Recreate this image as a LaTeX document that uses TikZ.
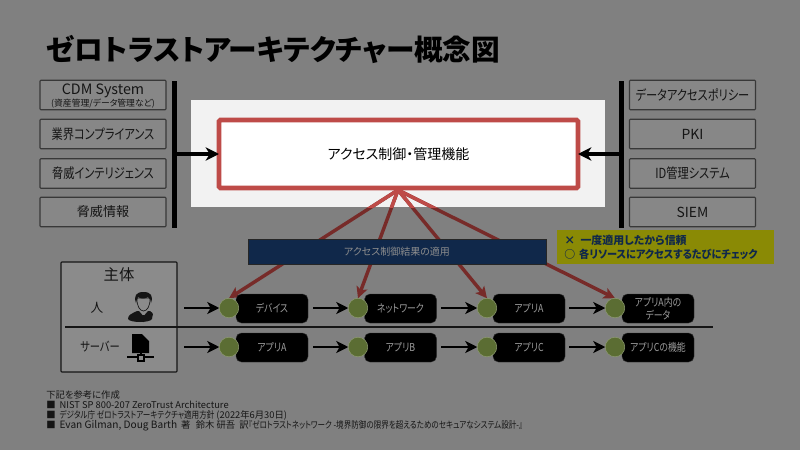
\documentclass[tikz,border=0pt]{standalone}
\usepackage{fontspec}
\setmainfont{Noto Sans CJK JP}[RawFeature=+palt]
\newfontfamily\cdk{Noto Sans CJK JP}[RawFeature=+palt,FakeStretch=0.81]
\newfontfamily\cdj{Noto Sans CJK JP}[RawFeature=+palt,FakeStretch=0.93]
\usetikzlibrary{arrows.meta}
\definecolor{bgc}{HTML}{808080}
\definecolor{boxc}{HTML}{878787}
\definecolor{subjc}{HTML}{8B8B8B}
\definecolor{redc}{HTML}{BE4B48}
\definecolor{dred}{HTML}{772B29}
\definecolor{navy}{HTML}{10284A}
\definecolor{olive}{HTML}{5B6D33}
\definecolor{yel}{HTML}{8A8A05}
\definecolor{ink}{HTML}{151515}
\definecolor{dimtxt}{HTML}{9C9C9C}
\tikzset{
  x=0.75pt,y=-0.75pt,
  wh/.style 2 args={minimum width=#1*0.75pt,minimum height=#2*0.75pt,inner sep=0pt,outer sep=0pt},
  srcbox/.style={draw=ink!85!white,line width=0.8pt,fill=boxc,rounded corners=0.6pt,text=ink,font=\fontsize{10.4}{12}\selectfont,align=center},
  resbox/.style={fill=black,rounded corners=4pt,draw=black!60!bgc,line width=0.3pt,text=dimtxt,font=\cdk\fontsize{8.2}{9.5}\selectfont,align=center},
  pep/.style={circle,fill=olive,draw=olive!70!white,line width=0.4pt,minimum size=19.5*0.75pt,inner sep=0pt,outer sep=0pt},
  bigarrow/.style={line width=2.4pt,-{Stealth[length=10pt,width=10pt,inset=3pt]}},
  rowarrow/.style={line width=2pt,-{Stealth[length=9pt,width=9pt,inset=2.5pt]}},
  redarrow/.style={draw=dred,line width=2.6pt,-{Stealth[length=8.5pt,width=8.5pt,inset=2pt]}},
  note/.style={anchor=west,inner sep=0pt,text=ink,font=\fontsize{7}{8}\selectfont},
  lab/.style={inner sep=0pt,text=ink}
}
\begin{document}
\begin{tikzpicture}
\useasboundingbox (0,0) rectangle (800,450);
\fill[bgc] (0,0) rectangle (800,450);
\node[anchor=west,inner sep=0pt,text=black,font=\fontsize{21.5}{24}\bfseries\selectfont] (title) at (46,50) {ゼロトラストアーキテクチャー概念図};
% panel
\node[fill=black!5,wh={414}{107}] (panel) at (398,153.5) {};
% left sources
\node[srcbox,wh={126}{29.5}] (l1) at (103,95) {};
\node[lab,font=\fontsize{10.7}{12}\selectfont] (l1a) at (103,90.5) {CDM System};
\node[lab,font=\fontsize{6.6}{8}\selectfont] (l1b) at (103,103.5) {(資産管理/データ管理など)};
\node[srcbox,wh={126}{29.5}] (l2) at (103,134) {\cdk 業界コンプライアンス};
\node[srcbox,wh={126}{29.5}] (l3) at (103,173.5) {\cdk 脅威インテリジェンス};
\node[srcbox,wh={126}{29.5}] (l4) at (103,212) {{\fontsize{9.8}{12}\selectfont 脅威情報}};
% right sources
\node[srcbox,wh={126}{29.5}] (r1) at (692.5,95) {\cdk データアクセスポリシー};
\node[srcbox,wh={126}{29.5}] (r2) at (692.5,134) {PKI};
\node[srcbox,wh={126}{29.5}] (r3) at (692.5,173.5) {\cdk ID管理システム};
\node[srcbox,wh={126}{29.5}] (r4) at (692.5,212) {SIEM};
% bars
\node[fill=black,wh={5}{147}] (lbar) at (174.5,154) {};
\node[fill=black,wh={5}{147}] (rbar) at (621.5,154) {};
% red connectors
\node[pep,draw=none,fill=none] (pa1) at (229,308) {};
\node[pep,draw=none,fill=none] (pa2) at (358,308) {};
\node[pep,draw=none,fill=none] (pa3) at (487,308) {};
\node[pep,draw=none,fill=none] (pa4) at (615,308) {};
\coordinate (mid) at (398,190);
\foreach \n in {1,2,3,4}{ \draw[redarrow] (mid) -- (pa\n.north); }
\begin{scope}
\clip (191,100) rectangle (605,207);
\foreach \n in {1,2,3,4}{ \draw[draw=redc,line width=2.6pt] (mid) -- (pa\n.north); }
\end{scope}
% main
\node[fill=white,draw=redc,line width=3.4pt,rounded corners=1pt,wh={359}{68},text=black,font=\fontsize{10.5}{12}\selectfont] (main) at (398.5,154) {アクセス制御・管理機能};
\draw[bigarrow] (lbar.east |- main.west) -- (main.west);
\draw[bigarrow] (rbar.west |- main.east) -- (main.east);
% row 1 and 2 boxes
\node[resbox,wh={72}{29}] (a1) at (272,308.5) {デバイス};
\node[resbox,wh={72}{29}] (a2) at (400.5,308.5) {ネットワーク};
\node[resbox,wh={72}{29}] (a3) at (529,308.5) {アプリA};
\node[resbox,wh={72}{29}] (a4) at (658,308.5) {アプリA内の\\データ};
\node[resbox,wh={72}{29}] (b1) at (272,347.5) {アプリA};
\node[resbox,wh={72}{29}] (b2) at (400.5,347.5) {アプリB};
\node[resbox,wh={72}{29}] (b3) at (529,347.5) {アプリC};
\node[resbox,wh={72}{29}] (b4) at (658,347.5) {アプリCの機能};
\foreach \n/\x in {1/229,2/358,3/487,4/615}{
  \node[pep] (qa\n) at (\x,308) {};
  \node[pep] (pb\n) at (\x,347) {};
}
% navy
\node[fill=navy,draw=black!70!bgc,line width=0.3pt,wh={298}{25},text=dimtxt!90!black,font=\fontsize{7.5}{9}\selectfont] (apply) at (397,251.5) {アクセス制御結果の適用};
% yellow
\node[fill=yel,wh={217}{34}] (tip) at (665.5,247) {};
\node[anchor=west,inner sep=0pt,text=navy,font=\fontsize{8.2}{10}\bfseries\selectfont] (tip1) at (564,240.5) {×\hspace{4pt}一度適用したから信頼};
\node[anchor=west,inner sep=0pt,text=navy,font=\fontsize{8.2}{10}\bfseries\selectfont] (tip2) at (564,254) {○\hspace{3pt}{\cdj 各リソースにアクセスするたびにチェック}};
% subject
\node[fill=subjc,draw=ink,line width=0.8pt,rounded corners=0.6pt,wh={116}{110}] (subj) at (119,317) {};
\node[lab,font=\fontsize{11.5}{13}\selectfont] (subjt) at (119,275) {主体};
\node[lab,font=\fontsize{9.5}{11}\selectfont] (human) at (97,308) {人};
\node[lab,font=\cdk\fontsize{9.5}{11}\selectfont] (server) at (100,347) {サーバー};
\coordinate (dl) at (65,327);
\coordinate (dr) at (713,327);
\draw[ink,line width=0.9pt] (dl) -- (dr);
% person icon
\fill[ink] (128,319) .. controls (128,315) and (131,314) .. (137,311) -- (150,311) -- (143.5,311) -- (150,311) .. controls (155,314) and (152,315) .. (152,319) .. controls (150,323) and (130,323) .. (128,319) -- cycle;
\fill[subjc] (137.5,309) -- (143.5,316) -- (149.5,309) -- cycle;
\draw[ink,line width=0.5pt,fill=subjc] (137,298) .. controls (136.5,306) and (140,311) .. (143.5,311) .. controls (147,311) and (150.5,306) .. (150,298) -- cycle;
\fill[ink] (136,303) .. controls (133.5,296) and (136,292) .. (143.5,292) .. controls (151,292) and (153.5,296) .. (151,303) .. controls (151,300) and (150,298) .. (148,297) .. controls (145,299) and (141,299) .. (138,297) .. controls (137,299) and (136.5,301) .. (136,303) -- cycle;
\fill[ink] (142.5,315) -- (144.5,315) -- (145,320) -- (143.5,322) -- (142,320) -- cycle;
% server icon
\fill[black] (132,334) -- (142,334) -- (149,341) -- (149,353) -- (132,353) -- cycle;
\fill[black] (139.5,353) rectangle (141.5,356);
\fill[black] (127,355.5) rectangle (154,358);
\fill[black] (136.5,354) rectangle (145,361.5);
\fill[subjc] (139,356) rectangle (142.5,359.5);
% row arrows
\foreach \n/\x in {1/184,2/313,3/441,4/569}{
  \coordinate (sa\n) at (\x,308);
  \coordinate (sb\n) at (\x,347);
  \draw[rowarrow] (sa\n) -- (qa\n.west);
  \draw[rowarrow] (sb\n) -- (pb\n.west);
}
% notes
\node[note] (n0) at (46,395) {下記を参考に作成};
\node[note] (n1) at (46,405) {■\hspace{3pt}NIST SP 800-207 ZeroTrust Architecture};
\node[note] (n2) at (46,415.5) {■\hspace{3pt}{\cdk デジタル庁 ゼロトラストアーキテクチャ適用方針} (2022年6月30日)};
\node[note] (n3) at (46,426) {■\hspace{3pt}{\fontsize{7.6}{8}\selectfont Evan Gilman, Doug Barth}\hspace{3pt}著\hspace{4pt}鈴木 研吾\hspace{3pt}訳{\cdk『ゼロトラストネットワーク -境界防御の限界を超えるためのセキュアなシステム設計-』}};
\end{tikzpicture}
\end{document}
